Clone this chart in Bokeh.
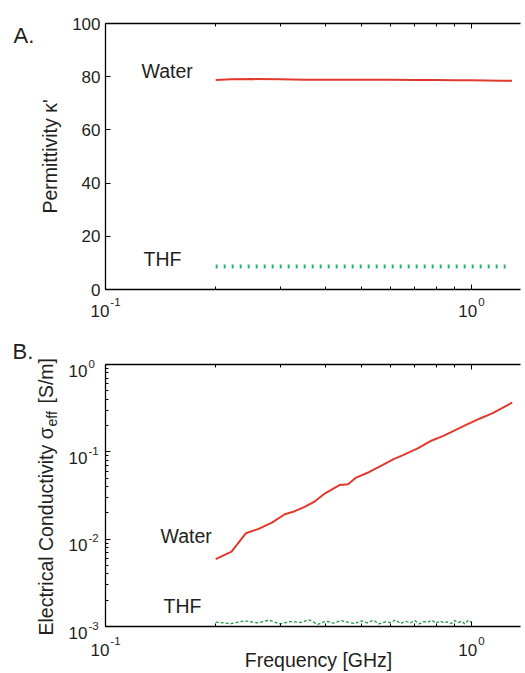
import math
from bokeh.plotting import figure
from bokeh.models import Range1d, FixedTicker, LogAxis, LinearAxis, Label
from bokeh.layouts import column
from bokeh.embed import file_html
from bokeh.resources import INLINE

FONT = "Liberation Sans"
TXT = "#231f20"
RED = "#e03a2e"
GREEN_A = "#2cb36e"
GREEN_B = "#1f9a45"

# ---------------- Panel A: permittivity ----------------
water_perm_freq = [0.20, 0.22, 0.25, 0.30, 0.35, 0.40, 0.50, 0.60, 0.70, 0.80, 0.90, 1.00, 1.10, 1.20, 1.29]
water_perm = [78.8, 79.0, 79.1, 79.0, 78.9, 78.9, 78.9, 78.9, 78.8, 78.8, 78.7, 78.7, 78.6, 78.5, 78.5]
thf_perm_freq = [0.20, 0.30, 0.50, 0.70, 1.00, 1.27]
thf_perm = [8.6, 8.6, 8.6, 8.6, 8.6, 8.6]

# ---------------- Panel B: conductivity ----------------
water_cond_freq = [0.200, 0.221, 0.242, 0.262, 0.285, 0.309, 0.329, 0.350, 0.373, 0.397,
                   0.437, 0.460, 0.484, 0.526, 0.564, 0.611, 0.657, 0.715, 0.773, 0.835,
                   0.900, 0.973, 1.052, 1.139, 1.292]
water_cond = [0.0059, 0.0072, 0.0117, 0.0131, 0.0155, 0.0193, 0.0209, 0.0234, 0.0270, 0.0333,
              0.0418, 0.0425, 0.0507, 0.0588, 0.0688, 0.0821, 0.0936, 0.1105, 0.1329, 0.1516,
              0.1761, 0.2062, 0.2395, 0.2754, 0.3649]
thf_cond_freq = [0.20, 0.22, 0.24, 0.26, 0.28, 0.30, 0.32, 0.34, 0.36, 0.38,
                 0.40, 0.42, 0.44, 0.46, 0.48, 0.50, 0.52, 0.54, 0.56, 0.58,
                 0.60, 0.62, 0.64, 0.66, 0.68, 0.70, 0.72, 0.74, 0.76, 0.78,
                 0.80, 0.82, 0.84, 0.86, 0.88, 0.90, 0.92, 0.94, 0.96, 0.98, 1.00]
thf_cond = [0.00112, 0.00108, 0.00116, 0.00110, 0.00118, 0.00107, 0.00114, 0.00111, 0.00119, 0.00106,
            0.00115, 0.00109, 0.00117, 0.00112, 0.00108, 0.00116, 0.00110, 0.00118, 0.00107, 0.00113,
            0.00111, 0.00119, 0.00108, 0.00115, 0.00110, 0.00117, 0.00107, 0.00114, 0.00112, 0.00118,
            0.00109, 0.00116, 0.00110, 0.00113, 0.00108, 0.00117, 0.00111, 0.00115, 0.00107, 0.00118,
            0.00112]

# ticks
x_major = [0.1, 1.0]
x_major_exp = ["-1", "0"]
x_minor = [0.2, 0.3, 0.4, 0.5, 0.6, 0.7, 0.8, 0.9]
x_axis_end = 1.36
permA_ticks = [0, 20, 40, 60, 80, 100]
condB_major = [0.001, 0.01, 0.1, 1.0]
condB_exp = ["-3", "-2", "-1", "0"]
condB_minor = [k * 10.0 ** e for e in (-3, -2, -1) for k in range(2, 10)]

# ---------------- layout geometry (pixels) ----------------
W = 525
H_A, H_B = 340, 333
PX_LEFT = 105          # frame left edge
PX_DEC = 366           # pixels per decade on x
A_TOP, A_BOT = 23, 289
B_TOP, B_BOT = 24, 286

x_lo = 10 ** (-1 - PX_LEFT / PX_DEC)
x_hi = 10 ** (-1 + (W - PX_LEFT) / PX_DEC)
a_ppu = (A_BOT - A_TOP) / 100.0
a_lo = 0 - (H_A - A_BOT) / a_ppu
a_hi = 100 + A_TOP / a_ppu
b_ppd = (B_BOT - B_TOP) / 3.0
b_lo = 10 ** (-3 - (H_B - B_BOT) / b_ppd)
b_hi = 10 ** (0 + B_TOP / b_ppd)


def style_axis(ax, ticker):
    ax.ticker = ticker
    ax.axis_line_color = "black"
    ax.axis_line_width = 1.3
    ax.major_tick_line_color = "black"
    ax.minor_tick_line_color = "black"
    ax.major_tick_line_width = 1
    ax.minor_tick_line_width = 1
    ax.major_tick_in = 5
    ax.major_tick_out = 0
    ax.minor_tick_in = 3
    ax.minor_tick_out = 0
    ax.major_label_text_font_size = "6px"
    ax.major_label_text_color = None
    ax.major_label_standoff = 0


def lab(p, text, x, y, size, xo=0, yo=0, align="left", angle=0.0):
    p.add_layout(Label(x=x, y=y, x_units="data", y_units="data", text=text,
                       x_offset=xo, y_offset=yo, text_align=align, text_baseline="middle",
                       angle=angle, text_font=FONT, text_font_size=f"{size}px",
                       text_color=TXT))


def sup_label(p, x, y, exp, xo_base, xo_sup, yo_base, yo_sup):
    lab(p, "10", x, y, 17, xo=xo_base, yo=yo_base, align="right")
    lab(p, exp, x, y, 11.5, xo=xo_sup, yo=yo_sup, align="left")


def x_tick_labels(p, ybottom, yo_base, yo_sup):
    for t, e in zip(x_major, x_major_exp):
        base_w = 2 * 0.556 * 17
        sup_w = (0.333 * e.count("-") + 0.556 * len(e.replace("-", ""))) * 11.5
        w = base_w + 1 + sup_w
        rb = -w / 2 + base_w
        sup_label(p, t, ybottom, e, rb, rb + 1, yo_base, yo_sup)


def base_fig(height, y_type, y_range, y_bottom, y_top):
    p = figure(width=W, height=height, x_axis_type="log", y_axis_type=y_type,
               x_axis_location=None, y_axis_location=None,
               x_range=Range1d(x_lo, x_hi), y_range=Range1d(*y_range),
               output_backend="svg", toolbar_location=None,
               min_border=0)
    p.outline_line_color = None
    p.xgrid.visible = False
    p.ygrid.visible = False
    p.background_fill_color = "white"
    p.border_fill_color = "white"
    xb = LogAxis(fixed_location=y_bottom, bounds=(0.1, x_axis_end))
    style_axis(xb, FixedTicker(ticks=x_major, minor_ticks=x_minor))
    p.add_layout(xb, "below")
    xt = LogAxis(fixed_location=y_top, bounds=(0.1, x_axis_end))
    style_axis(xt, FixedTicker(ticks=x_major, minor_ticks=x_minor))
    p.add_layout(xt, "above")
    return p


# ---------------- Figure A ----------------
pA = base_fig(H_A, "linear", (a_lo, a_hi), 0, 100)
yA = LinearAxis(fixed_location=0.1, bounds=(0, 100))
style_axis(yA, FixedTicker(ticks=permA_ticks))
pA.add_layout(yA, "left")
pA.line(water_perm_freq, water_perm, line_color=RED, line_width=2)
pA.line(thf_perm_freq, thf_perm, line_color=GREEN_A, line_width=4, line_dash="2 6")

for v in permA_ticks:
    lab(pA, str(v), 0.1, v, 17, xo=-5, align="right")
x_tick_labels(pA, 0, -21, -12)
lab(pA, "Permittivity \u03ba'", 0.1, 50, 19.5, xo=-56, align="center", angle=math.pi / 2)
lab(pA, "Water", 0.1254, 82.3, 19.5)
lab(pA, "THF", 0.127, 11.3, 19.5)
lab(pA, "A.", 0.1, 100, 22, xo=-92, yo=-12)

# ---------------- Figure B ----------------
pB = base_fig(H_B, "log", (b_lo, b_hi), 0.001, 1.0)
yB = LogAxis(fixed_location=0.1, bounds=(0.001, 1.0))
style_axis(yB, FixedTicker(ticks=condB_major, minor_ticks=condB_minor))
pB.add_layout(yB, "left")
pB.line(water_cond_freq, water_cond, line_color=RED, line_width=2)
pB.line(thf_cond_freq, thf_cond, line_color=GREEN_B, line_width=1.3, line_dash="3 2")

for t, e in zip(condB_major, condB_exp):
    sup_label(pB, 0.1, t, e, -18, -17, -6, 1)
x_tick_labels(pB, 0.001, -23, -14)

# y-axis label with subscript, rotated (reads bottom to top)
ylab_x_off = -60
lab(pB, "Electrical Conductivity \u03c3", 0.1, 0.001, 19.5, xo=ylab_x_off, yo=-9,
    angle=math.pi / 2)
lab(pB, "eff", 0.1, 0.001, 14, xo=ylab_x_off + 6, yo=200, angle=math.pi / 2)
lab(pB, "[S/m]", 0.1, 0.001, 19.5, xo=ylab_x_off, yo=223, angle=math.pi / 2)

lab(pB, "Frequency [GHz]", 0.382, 0.001, 19.5, yo=-33, align="center")
lab(pB, "Water", 0.1413, 0.01101, 19.5)
lab(pB, "THF", 0.1441, 0.001717, 19.5)
lab(pB, "B.", 0.1, 1.0, 22, xo=-93, yo=13)

layout = column(pA, pB, spacing=0)
open("out.html", "w").write(file_html(layout, INLINE))
